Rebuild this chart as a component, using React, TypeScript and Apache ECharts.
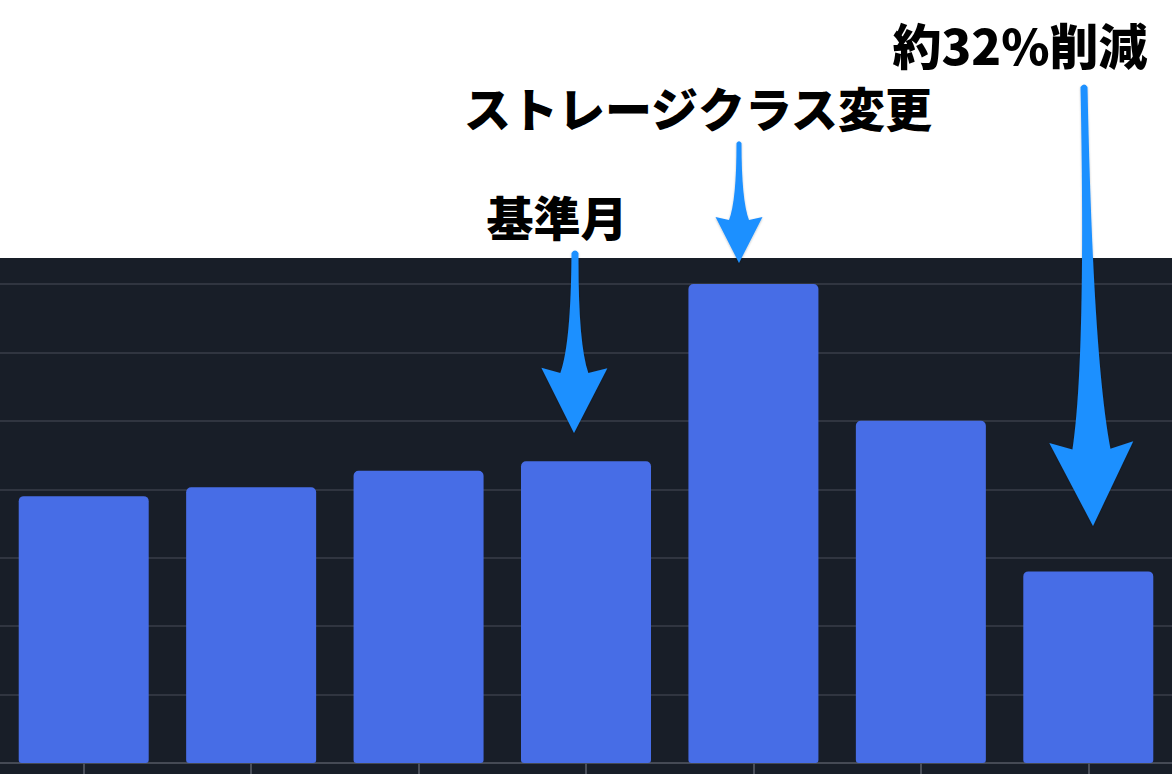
import React, { useEffect, useRef } from 'react';
import * as echarts from 'echarts';

// monthly storage cost (axis labels are cropped out of the reference)
const months = ['1月', '2月', '3月', '4月', '5月', '6月', '7月'];
const costs = [390, 403, 427, 441, 700, 500, 280];
const yTicks = { min: 0, max: 700, interval: 100 };

const notes = [
  { text: '基準月', x: 557, y: 215, size: 47 },
  { text: 'ストレージクラス変更', x: 698, y: 106, size: 47 },
  { text: '約32%削減', x: 1020, y: 43, size: 49 },
];

// tapered arrow: thin rounded top, flaring shaft, triangular head
function arrowPath(
  tx: number, ty: number, px: number, py: number,
  topW: number, baseW: number, barbW: number, headLen: number, barbLift: number
) {
  const len = Math.hypot(px - tx, py - ty);
  const ux = (px - tx) / len;
  const uy = (py - ty) / len;
  const nx = -uy;
  const ny = ux;
  const pt = (along: number, side: number) =>
    `${(tx + ux * along + nx * side).toFixed(2)} ${(ty + uy * along + ny * side).toFixed(2)}`;
  const base = len - headLen;
  const barb = len - headLen - barbLift;
  const ctrl = base * 0.75;
  return [
    `M ${pt(0, topW / 2)}`,
    `Q ${pt(ctrl, topW / 2)} ${pt(base, baseW / 2)}`,
    `L ${pt(barb, barbW / 2)}`,
    `L ${pt(len, 0)}`,
    `L ${pt(barb, -barbW / 2)}`,
    `L ${pt(base, -baseW / 2)}`,
    `Q ${pt(ctrl, -topW / 2)} ${pt(0, -topW / 2)}`,
    `Q ${pt(-topW * 0.7, 0)} ${pt(0, topW / 2)}`,
    'Z',
  ].join(' ');
}

const arrows = [
  { name: 'arrowBase', d: arrowPath(575, 253, 574, 433, 7, 28, 66, 60, 5) },
  { name: 'arrowClass', d: arrowPath(739, 143, 739, 263, 5, 20, 47, 43, 3) },
  { name: 'arrowCut', d: arrowPath(1084, 87, 1093, 526, 7, 38, 84, 77, 7) },
];

arrows.forEach((a) => {
  echarts.graphic.registerShape(a.name, echarts.graphic.extendPath(a.d, {}));
});

const App: React.FC = () => {
  const chartRef = useRef<HTMLDivElement | null>(null);

  useEffect(() => {
    if (!chartRef.current) return;
    const chart = echarts.init(chartRef.current, null, { renderer: 'svg' });

    const option: any = {
      animation: false,
      backgroundColor: 'transparent',
      grid: { left: -1, width: 1175, top: 284, bottom: 11 },
      xAxis: {
        type: 'category',
        data: months,
        axisLine: { lineStyle: { color: '#454a55', width: 2 } },
        axisTick: { show: true, alignWithLabel: true, length: 14, lineStyle: { color: '#4a4f5a', width: 2 } },
        axisLabel: { show: false },
      },
      yAxis: {
        type: 'value',
        min: yTicks.min,
        max: yTicks.max,
        interval: yTicks.interval,
        axisLabel: { show: false },
        splitLine: { lineStyle: { color: '#393e49', width: 1.5 } },
      },
      series: [
        {
          type: 'bar',
          data: costs,
          barWidth: 130,
          itemStyle: { color: '#476de6', borderRadius: [5, 5, 3, 3] },
        },
      ],
      graphic: [
        ...arrows.map((a) => ({
          type: a.name,
          x: 0,
          y: 0,
          z: 100,
          style: { fill: '#1e90ff', shadowBlur: 2, shadowColor: 'rgba(0,0,0,0.25)', shadowOffsetY: 1 },
        })),
        ...notes.map((n) => ({
          type: 'text',
          x: n.x,
          y: n.y,
          z: 101,
          style: {
            text: n.text,
            fontSize: n.size,
            fontWeight: 900,
            fontFamily: '"Noto Sans CJK JP", sans-serif',
            fill: '#000',
            stroke: '#fff',
            lineWidth: 9,
            align: 'center',
            verticalAlign: 'middle',
            shadowBlur: 4,
            shadowColor: 'rgba(0,0,0,0.35)',
            shadowOffsetY: 2,
          },
        })),
      ],
    };

    chart.setOption(option);

    return () => {
      chart.dispose();
    };
  }, []);

  return (
    <div style={{ position: 'absolute', left: 0, top: 0, width: 1172, height: 774, background: '#fff', overflow: 'hidden' }}>
      <div style={{ position: 'absolute', left: 0, top: 258, width: 1172, height: 516, background: '#181e28' }} />
      <div ref={chartRef} style={{ position: 'absolute', left: 0, top: 0, width: 1172, height: 774 }} />
    </div>
  );
};

export default App;
